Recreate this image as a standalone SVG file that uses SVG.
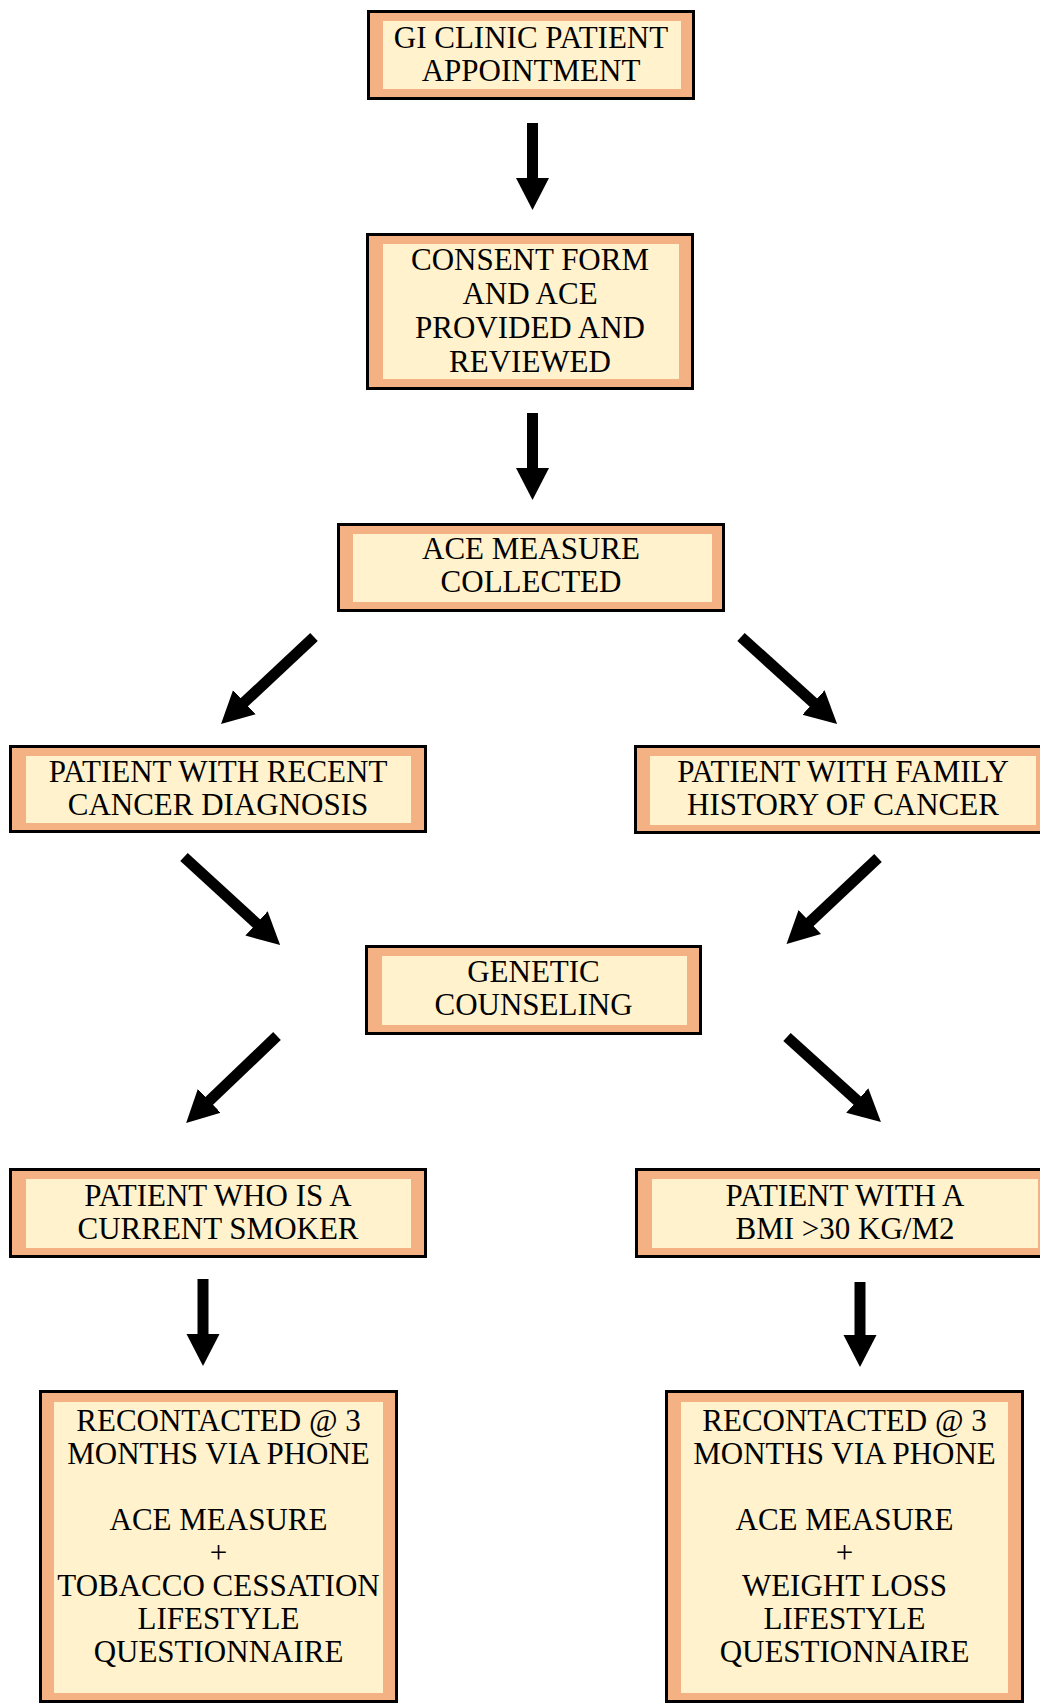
<svg xmlns="http://www.w3.org/2000/svg" width="1040" height="1704" viewBox="0 0 1040 1704">
<style>
.outer{fill:#F4B183;stroke:#000;stroke-width:3}
.inner{fill:#FFF2CC}
.t{font-family:"Liberation Serif","Times New Roman",serif;font-size:31px;fill:#000;text-anchor:middle}
.arr{stroke:#000;stroke-width:11;fill:none}
</style>
<defs>
<marker id="ah" markerUnits="userSpaceOnUse" markerWidth="33" markerHeight="34" refX="16" refY="16.5" orient="auto" viewBox="0 0 33 33">
<path d="M0,0 L32,16.5 L0,33 z" fill="#000"/>
</marker>
</defs>
<rect width="1040" height="1704" fill="#fff"/>

<g id="connectors">
<line class="arr" x1="532.5" y1="123" x2="532.5" y2="194" marker-end="url(#ah)"/>
<line class="arr" x1="532.5" y1="413" x2="532.5" y2="484" marker-end="url(#ah)"/>
<line class="arr" x1="314" y1="637" x2="232.7" y2="713.1" marker-end="url(#ah)"/>
<line class="arr" x1="741" y1="637" x2="825.3" y2="713.3" marker-end="url(#ah)"/>
<line class="arr" x1="184" y1="857" x2="268.3" y2="934.2" marker-end="url(#ah)"/>
<line class="arr" x1="878" y1="858" x2="798.2" y2="933" marker-end="url(#ah)"/>
<line class="arr" x1="277" y1="1036" x2="197.7" y2="1111.9" marker-end="url(#ah)"/>
<line class="arr" x1="787" y1="1037" x2="869.1" y2="1111.3" marker-end="url(#ah)"/>
<line class="arr" x1="203" y1="1279" x2="203" y2="1350" marker-end="url(#ah)"/>
<line class="arr" x1="860" y1="1282" x2="860" y2="1351" marker-end="url(#ah)"/>
</g>

<g id="n1">
<rect class="outer" x="368.5" y="11.5" width="325" height="87"/>
<rect class="inner" x="383" y="21" width="298" height="68"/>
<text class="t" x="531" y="48">GI CLINIC PATIENT</text>
<text class="t" x="531" y="81">APPOINTMENT</text>
</g>

<g id="n2">
<rect class="outer" x="367.5" y="234.5" width="325" height="154"/>
<rect class="inner" x="383" y="244" width="296" height="135"/>
<text class="t" x="530" y="270">CONSENT FORM</text>
<text class="t" x="530" y="304">AND ACE</text>
<text class="t" x="530" y="338">PROVIDED AND</text>
<text class="t" x="530" y="372">REVIEWED</text>
</g>

<g id="n3">
<rect class="outer" x="338.5" y="524.5" width="385" height="86"/>
<rect class="inner" x="353" y="534" width="359" height="68"/>
<text class="t" x="531" y="559">ACE MEASURE</text>
<text class="t" x="531" y="592">COLLECTED</text>
</g>

<g id="n4">
<rect class="outer" x="10.5" y="746.5" width="415" height="85"/>
<rect class="inner" x="26" y="756" width="385" height="67"/>
<text class="t" x="218" y="782">PATIENT WITH RECENT</text>
<text class="t" x="218" y="815">CANCER DIAGNOSIS</text>
</g>

<g id="n5">
<rect class="outer" x="635.5" y="746.5" width="415" height="86"/>
<rect class="inner" x="650" y="756" width="386" height="69"/>
<text class="t" x="843" y="782">PATIENT WITH FAMILY</text>
<text class="t" x="843" y="815">HISTORY OF CANCER</text>
</g>

<g id="n6">
<rect class="outer" x="366.5" y="946.5" width="334" height="87"/>
<rect class="inner" x="382" y="956" width="305" height="69"/>
<text class="t" x="533.5" y="982">GENETIC</text>
<text class="t" x="533.5" y="1015">COUNSELING</text>
</g>

<g id="n7">
<rect class="outer" x="10.5" y="1169.5" width="415" height="87"/>
<rect class="inner" x="26" y="1179" width="385" height="69"/>
<text class="t" x="218" y="1206">PATIENT WHO IS A</text>
<text class="t" x="218" y="1239">CURRENT SMOKER</text>
</g>

<g id="n8">
<rect class="outer" x="636.5" y="1169.5" width="415" height="87"/>
<rect class="inner" x="652" y="1179" width="386" height="69"/>
<text class="t" x="845" y="1206">PATIENT WITH A</text>
<text class="t" x="845" y="1239">BMI &gt;30 KG/M2</text>
</g>

<g id="n9">
<rect class="outer" x="40.5" y="1391.5" width="356" height="310"/>
<rect class="inner" x="54" y="1402" width="329" height="291"/>
<text class="t" x="218.5" y="1431">RECONTACTED @ 3</text>
<text class="t" x="218.5" y="1464">MONTHS VIA PHONE</text>
<text class="t" x="218.5" y="1530">ACE MEASURE</text>
<text class="t" x="218.5" y="1563">+</text>
<text class="t" x="218.5" y="1596">TOBACCO CESSATION</text>
<text class="t" x="218.5" y="1629">LIFESTYLE</text>
<text class="t" x="218.5" y="1662">QUESTIONNAIRE</text>
</g>

<g id="n10">
<rect class="outer" x="666.5" y="1391.5" width="356" height="310"/>
<rect class="inner" x="681" y="1402" width="327" height="291"/>
<text class="t" x="844.5" y="1431">RECONTACTED @ 3</text>
<text class="t" x="844.5" y="1464">MONTHS VIA PHONE</text>
<text class="t" x="844.5" y="1530">ACE MEASURE</text>
<text class="t" x="844.5" y="1563">+</text>
<text class="t" x="844.5" y="1596">WEIGHT LOSS</text>
<text class="t" x="844.5" y="1629">LIFESTYLE</text>
<text class="t" x="844.5" y="1662">QUESTIONNAIRE</text>
</g>
</svg>
